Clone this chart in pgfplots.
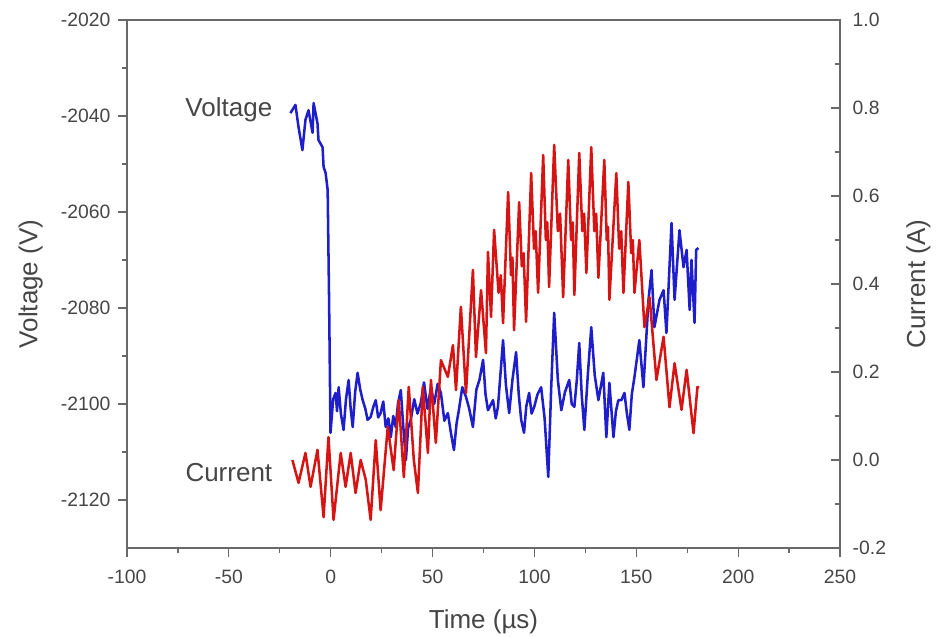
\documentclass[border=0pt]{standalone}
\usepackage{pgfplots}
\pgfplotsset{compat=1.18}
\usepackage{fontspec}
\setmainfont{Liberation Sans}
\definecolor{txt}{RGB}{70,70,70}
\definecolor{axc}{RGB}{105,105,105}
\definecolor{vblue}{RGB}{30,30,205}
\definecolor{cred}{RGB}{215,20,20}
\begin{document}
\begin{tikzpicture}
\pgfplotsset{
  common/.style={
    width=534.75pt, height=396pt, scale only axis,
    xmin=-100, xmax=250,
    axis line style={axc, line width=1.1pt},
    every tick/.style={axc, line width=0.9pt},
    major tick length=7pt, minor tick length=3.5pt,
    tick label style={font=\fontsize{14.5}{14.5}\selectfont, text=txt},
    /pgf/number format/assume math mode=true,
    /pgf/number format/1000 sep={},
  }
}
\begin{axis}[common, name=ax,
  ymin=-2130, ymax=-2020,
  xtick={-100,-50,...,250}, minor x tick num=1,
  ytick={-2120,-2100,...,-2020}, minor y tick num=1,
  xtick pos=left, ytick pos=left, tick align=outside,
  xticklabel style={yshift=-6pt},
  yticklabel style={xshift=-2pt},
  xlabel={Time (µs)}, ylabel={Voltage (V)},
  every axis x label/.style={at={(axis description cs:0.5,-0.139)},anchor=center,font=\fontsize{19.5}{19.5}\selectfont, text=txt},
  every axis y label/.style={at={(axis description cs:-0.135,0.5)},rotate=90,anchor=center,font=\fontsize{19.5}{19.5}\selectfont, text=txt},
]
\addplot[vblue, line width=1.9pt, line join=round] coordinates {
(-19.8,-2039.4) (-17.3,-2037.7) (-15.8,-2042.3) (-13.9,-2047.1) (-12.4,-2040.8)
(-10.9,-2038.8) (-8.9,-2043.5) (-8.4,-2037.3) (-6.5,-2041.5) (-6.0,-2045.0)
(-4.0,-2046.5) (-3.5,-2050.6) (-2.5,-2051.9) (-1.5,-2055.4) (-0.8,-2078.3)
(-0.1,-2106.0) (1.2,-2099.0) (2.4,-2097.7) (3.1,-2101.5) (3.9,-2096.5) (5.0,-2102.0) (6.3,-2105.4) (7.5,-2099.0) (8.8,-2095.0)
(9.8,-2101.0) (10.8,-2104.8) (12.0,-2097.5) (13.2,-2093.5) (14.5,-2097.0) (15.7,-2099.2) (17.0,-2101.0) (18.1,-2103.3) (19.6,-2102.7)
(21.0,-2100.5) (22.1,-2099.2) (23.3,-2102.8) (24.5,-2101.9) (25.8,-2099.5) (27.0,-2104.8) (28.3,-2103.0) (29.5,-2106.9) (30.7,-2102.5) (31.9,-2104.8)
(33.0,-2100.0) (34.4,-2097.1) (35.5,-2104.0) (36.9,-2111.7) (38.0,-2105.0) (39.3,-2103.3) (41.0,-2099.0) (42.6,-2102.0) (44.2,-2099.8) (45.8,-2095.5) (47.5,-2101.0) (49.2,-2096.5)
(50.8,-2100.0) (52.5,-2095.8) (54.1,-2097.7) (55.8,-2103.5) (57.5,-2101.9) (59.0,-2106.0) (60.5,-2109.6) (61.8,-2104.0) (62.9,-2101.3) (64.6,-2096.5) (66.4,-2098.5)
(68.0,-2101.0) (69.8,-2104.8) (71.5,-2097.0) (73.0,-2095.0) (74.8,-2090.8) (76.0,-2098.0) (77.2,-2101.3) (79.7,-2099.2) (81.0,-2103.0) (82.1,-2100.6)
(84.6,-2086.7) (86.0,-2096.0) (87.6,-2101.9) (89.2,-2095.0) (91.0,-2089.2) (92.3,-2098.0) (93.5,-2103.3) (94.9,-2106.0) (96.0,-2100.5)
(97.4,-2097.7) (98.6,-2102.0) (99.9,-2100.6) (101.5,-2098.0) (103.3,-2096.5) (105.0,-2103.0) (106.8,-2115.2) (108.2,-2097.0) (109.7,-2081.0)
(111.5,-2095.0) (113.2,-2101.3) (115.0,-2097.5) (117.1,-2095.0) (118.3,-2100.0) (119.6,-2100.6) (120.8,-2095.0) (122.0,-2087.3) (123.2,-2098.0) (124.5,-2105.4)
(126.2,-2094.0) (127.9,-2084.0) (129.6,-2094.0) (131.4,-2099.2) (133.8,-2093.5) (135.3,-2106.9) (136.8,-2095.6)
(138.8,-2106.9) (140.0,-2101.5) (141.2,-2099.2) (142.7,-2099.2) (144.2,-2097.7) (145.4,-2102.0) (146.6,-2105.4) (147.8,-2098.0)
(149.1,-2094.4) (151.5,-2086.7) (153.5,-2096.5) (156.0,-2078.3) (157.5,-2072.1)
(158.9,-2084.0) (161.4,-2078.3) (163.4,-2076.3) (164.8,-2085.2) (167.3,-2062.3)
(168.8,-2078.3) (171.2,-2063.8) (173.2,-2071.5) (174.7,-2067.9) (176.2,-2080.4)
(177.1,-2070.0) (178.6,-2083.1) (179.4,-2067.9) (180.5,-2067.5)
};
\node[font=\fontsize{19.5}{19.5}\selectfont, text=txt] at (axis cs:-50,-2038.8) {Voltage};
\node[font=\fontsize{19.5}{19.5}\selectfont, text=txt] at (axis cs:-50,-2114.2) {Current};
\end{axis}
\begin{axis}[common,
  axis x line=none, axis y line*=right,
  ymin=-0.2, ymax=1.0,
  ytick={-0.2,0,0.2,0.4,0.6,0.8,1.0}, minor y tick num=1,
  tick align=inside,
  yticklabel style={xshift=6pt, /pgf/number format/fixed, /pgf/number format/fixed zerofill, /pgf/number format/precision=1},
  ylabel={Current (A)},
  every axis y label/.style={at={(axis description cs:1.11,0.5)},rotate=90,anchor=center,font=\fontsize{19.5}{19.5}\selectfont, text=txt},
]
\addplot[cred, line width=1.9pt, line join=round] coordinates {
(-18.8,0.000) (-15.8,-0.052) (-12.4,0.016) (-9.9,-0.061) (-6.5,0.023)
(-3.5,-0.130) (-1.1,0.052) (1.4,-0.136) (4.9,0.016) (7.3,-0.061)
(9.8,0.016) (12.2,-0.075) (14.7,0.000) (17.2,-0.045) (19.6,-0.136)
(22.1,0.045) (24.5,-0.114) (28.0,0.075) (30.9,-0.023) (33.4,0.136)
(35.9,-0.039) (38.3,0.166) (40.8,0.000) (42.8,-0.075) (45.2,0.166)
(47.7,0.016) (49.2,0.182) (51.6,0.039) (54.1,0.227) (57.5,0.189)
(60.0,0.261) (61.5,0.159) (63.9,0.348) (66.4,0.152) (69.8,0.432)
(71.3,0.234) (73.8,0.386) (76.2,0.243) (77.2,0.473) (78.7,0.325)
(80.2,0.523) (82.4,0.380) (83.5,0.420) (84.6,0.311) (87.1,0.609) (88.5,0.420) (89.2,0.460) (90.0,0.295) (92.5,0.586)
(93.8,0.440) (94.7,0.470) (95.9,0.314) (98.4,0.652) (99.8,0.480) (100.6,0.520) (101.8,0.380) (104.3,0.693) (105.6,0.500) (106.3,0.540) (107.2,0.393)
(109.7,0.716) (111.5,0.520) (112.6,0.560) (114.1,0.370) (116.6,0.682) (118.0,0.500) (118.8,0.540) (119.6,0.375) (122.0,0.698)
(123.5,0.520) (124.4,0.560) (125.5,0.425) (127.9,0.711) (129.4,0.520) (130.3,0.560) (131.4,0.414) (134.3,0.682) (135.5,0.500) (136.1,0.530) (136.8,0.364)
(140.2,0.652) (141.6,0.480) (142.6,0.520) (143.7,0.380) (146.1,0.632) (147.5,0.470) (148.3,0.500) (149.1,0.380) (151.5,0.500)
(154.0,0.302) (156.5,0.370) (159.9,0.182) (163.4,0.280) (166.3,0.120)
(168.8,0.220) (172.2,0.114) (174.7,0.205) (178.1,0.061) (180.0,0.166)
(180.8,0.164)
};
\end{axis}
\pgfresetboundingbox
\path[use as bounding box] ([xshift=-95.25pt,yshift=-66.75pt]ax.south west) rectangle ([xshift=74.25pt,yshift=15pt]ax.north east);
\end{tikzpicture}
\end{document}
